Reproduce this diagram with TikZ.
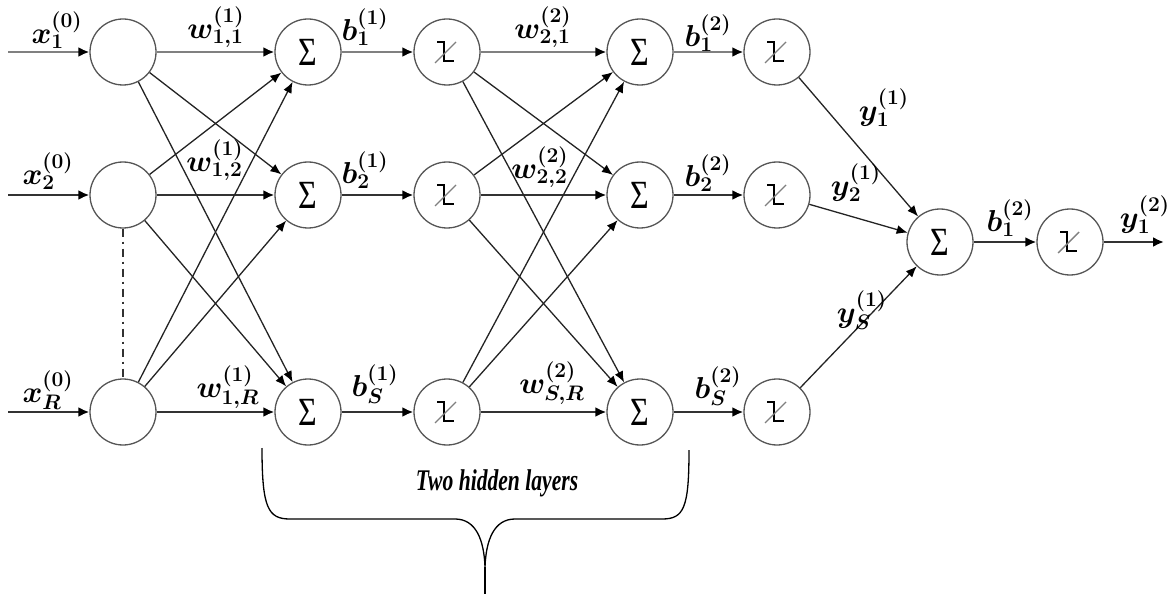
\documentclass[tikz,border=0pt]{standalone}
\usepackage{fontspec}
\newfontfamily\capfont{Liberation Serif}
\usetikzlibrary{arrows.meta}
\definecolor{circc}{RGB}{85,85,85}
\definecolor{linkc}{RGB}{35,35,35}
\definecolor{rowc}{RGB}{50,50,50}
\definecolor{topc}{RGB}{128,128,128}
\tikzset{
  neuron/.style={circle,draw=circc,line width=1.3pt,minimum size=66pt,inner sep=0pt},
  link/.style={draw=linkc,line width=1.3pt,-{Latex[length=11pt,width=9pt,color=black]}},
  rowlink/.style={draw=rowc,line width=2.2pt,-{Latex[length=11pt,width=10pt,color=black]}},
  toplink/.style={draw=topc,line width=2.8pt,-{Latex[length=11pt,width=10pt,color=black]}},
  lbl/.style={inner sep=0pt,font=\fontsize{17.28}{17.28}\selectfont\boldmath},
  sumsign/.style={neuron,font=\capfont\fontsize{40}{40}\selectfont},
  hardlim/.pic={
    \draw[black,line width=1.4pt] (-10,-10) -- (-3,-10) -- (-3,9) -- (7,9);
    \draw[gray,line width=1.4pt] (-12,11) -- (9,-10);
  }
}
\newcommand{\sumtxt}{\scalebox{0.8}[1]{Σ}}
\newcommand{\lab}[1]{\scalebox{1.75}{$#1$}}
\begin{document}
\begin{tikzpicture}[x=1pt,y=-1pt]
\useasboundingbox (0,0) rectangle (1173,596);

% input neurons
\node[neuron] (i1) at (123,52) {};
\node[neuron] (i2) at (123,195) {};
\node[neuron] (i3) at (123,412) {};
% first hidden layer: summation and transfer
\node[sumsign] (a1) at (308,52) {\sumtxt};
\node[sumsign] (a2) at (308,195) {\sumtxt};
\node[sumsign] (a3) at (308,412) {\sumtxt};
\node[neuron] (h1) at (447,52) {};
\node[neuron] (h2) at (447,195) {};
\node[neuron] (h3) at (447,412) {};
% second hidden layer
\node[sumsign] (c1) at (640,52) {\sumtxt};
\node[sumsign] (c2) at (640,195) {\sumtxt};
\node[sumsign] (c3) at (640,412) {\sumtxt};
\node[neuron] (g1) at (777,52) {};
\node[neuron] (g2) at (777,195) {};
\node[neuron] (g3) at (777,412) {};
% output neuron
\node[sumsign] (sf) at (940,242) {\sumtxt};
\node[neuron] (gf) at (1070,242) {};

\foreach \n in {h1,h2,h3,g1,g2,g3,gf} \pic at (\n) {hardlim};

% free ends
\coordinate (x1) at (8,52);
\coordinate (x2) at (8,195);
\coordinate (x3) at (8,412);
\coordinate (out) at (1164,242);

% inputs
\draw[toplink] (x1) -- (i1);
\draw[rowlink] (x2) -- (i2);
\draw[rowlink] (x3) -- (i3);
\draw[draw=rowc,line width=2pt,dash pattern=on 8pt off 5pt on 2pt off 5pt] (i2) -- (i3);

% input -> first summation
\draw[toplink] (i1) -- (a1);
\draw[rowlink] (i2) -- (a2);
\draw[rowlink] (i3) -- (a3);
\draw[link] (i1) -- (a2);
\draw[link] (i1) -- (a3);
\draw[link] (i2) -- (a1);
\draw[link] (i2) -- (a3);
\draw[link] (i3) -- (a1);
\draw[link] (i3) -- (a2);

% first summation -> transfer
\draw[toplink] (a1) -- (h1);
\draw[rowlink] (a2) -- (h2);
\draw[rowlink] (a3) -- (h3);

% first hidden -> second summation
\draw[toplink] (h1) -- (c1);
\draw[rowlink] (h2) -- (c2);
\draw[rowlink] (h3) -- (c3);
\draw[link] (h1) -- (c2);
\draw[link] (h1) -- (c3);
\draw[link] (h2) -- (c1);
\draw[link] (h2) -- (c3);
\draw[link] (h3) -- (c1);
\draw[link] (h3) -- (c2);

% second summation -> transfer
\draw[toplink] (c1) -- (g1);
\draw[rowlink] (c2) -- (g2);
\draw[rowlink] (c3) -- (g3);

% second hidden -> output
\draw[link] (g1) -- (sf);
\draw[link] (g2) -- (sf);
\draw[link] (g3) -- (sf);
\draw[rowlink] (sf) -- (gf);
\draw[rowlink] (gf) -- (out);

% labels
\node[lbl] (lx1) at (57,30) {\lab{x_1^{(0)}}};
\node[lbl] (lx2) at (48,171) {\lab{x_2^{(0)}}};
\node[lbl] (lx3) at (48,390) {\lab{x_R^{(0)}}};
\node[lbl] (lw11) at (216,27) {\lab{w_{1,1}^{(1)}}};
\node[lbl] (lw12) at (215,160) {\lab{w_{1,2}^{(1)}}};
\node[lbl] (lw1R) at (228,387) {\lab{w_{1,R}^{(1)}}};
\node[lbl] (lb11) at (365,27) {\lab{b_1^{(1)}}};
\node[lbl] (lb21) at (365,170) {\lab{b_2^{(1)}}};
\node[lbl] (lbS1) at (375,384) {\lab{b_S^{(1)}}};
\node[lbl] (lw21) at (543,27) {\lab{w_{2,1}^{(2)}}};
\node[lbl] (lw22) at (540,167) {\lab{w_{2,2}^{(2)}}};
\node[lbl] (lwSR) at (552,383) {\lab{w_{S,R}^{(2)}}};
\node[lbl] (lb12) at (708,33) {\lab{b_1^{(2)}}};
\node[lbl] (lb22) at (708,173) {\lab{b_2^{(2)}}};
\node[lbl] (lbS2) at (718,386) {\lab{b_S^{(2)}}};
\node[lbl] (ly1) at (884,108) {\lab{y_1^{(1)}}};
\node[lbl] (ly2) at (856,183) {\lab{y_2^{(1)}}};
\node[lbl] (lyS) at (862,310) {\lab{y_S^{(1)}}};
\node[lbl] (lbf) at (1010,218) {\lab{b_1^{(2)}}};
\node[lbl] (lyf) at (1145,215) {\lab{y_1^{(2)}}};

% brace under the hidden layers
\coordinate (bl) at (262,448);
\coordinate (br) at (689,450);
\coordinate (tip) at (485,567);
\coordinate (tail) at (485,594);
\draw[black,line width=1.3pt] (bl) .. controls (262,508) and (268,519) .. (290,519)
  -- (455,519) .. controls (476,519) and (484,540) .. (tip)
  .. controls (486,540) and (494,519) .. (515,519)
  -- (662,519) .. controls (684,519) and (689,508) .. (br);
\draw[black,line width=1.3pt] (tip) -- (tail);
\node[font=\capfont\fontsize{30}{30}\selectfont\bfseries\itshape] (cap) at (497,483) {\scalebox{0.72}[1]{Two hidden layers}};
\end{tikzpicture}
\end{document}
